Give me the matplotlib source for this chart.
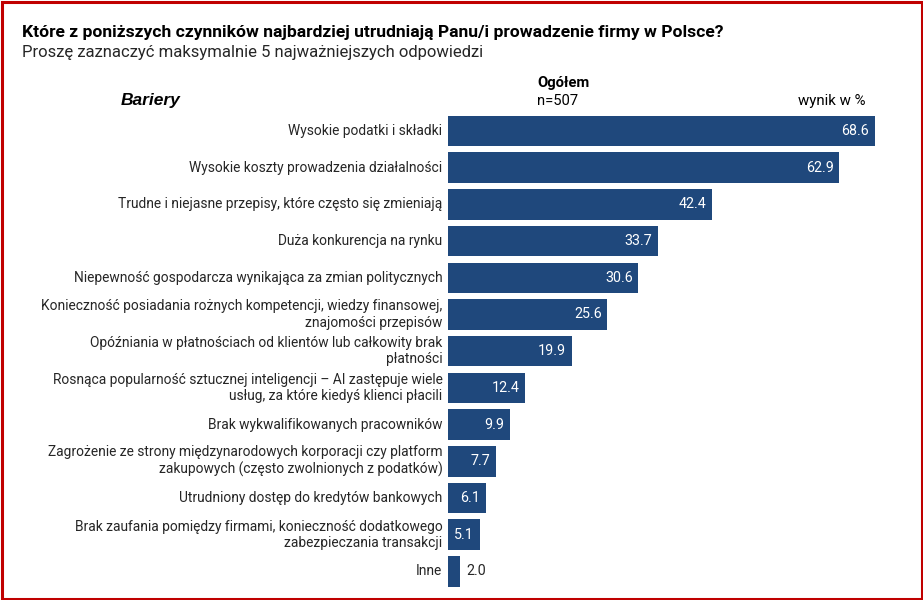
import matplotlib
matplotlib.use('Agg')
import matplotlib.pyplot as plt
from matplotlib.patches import Rectangle

# data
bariery = [
    'Wysokie podatki i składki',
    'Wysokie koszty prowadzenia działalności',
    'Trudne i niejasne przepisy, które często się zmieniają',
    'Duża konkurencja na rynku',
    'Niepewność gospodarcza wynikająca za zmian politycznych',
    'Konieczność posiadania rożnych kompetencji, wiedzy finansowej,\nznajomości przepisów',
    'Opóźniania w płatnościach od klientów lub całkowity brak\npłatności',
    'Rosnąca popularność sztucznej inteligencji – AI zastępuje wiele\nusług, za które kiedyś klienci płacili',
    'Brak wykwalifikowanych pracowników',
    'Zagrożenie ze strony międzynarodowych korporacji czy platform\nzakupowych (często zwolnionych z podatków)',
    'Utrudniony dostęp do kredytów bankowych',
    'Brak zaufania pomiędzy firmami, konieczność dodatkowego\nzabezpieczania transakcji',
    'Inne',
]
wyniki = [68.6, 62.9, 42.4, 33.7, 30.6, 25.6, 19.9, 12.4, 9.9, 7.7, 6.1, 5.1, 2.0]

title = 'Które z poniższych czynników najbardziej utrudniają Panu/i prowadzenie firmy w Polsce?'
subtitle = 'Proszę zaznaczyć maksymalnie 5 najważniejszych odpowiedzi'

navy = '#1F487C'
txt = '#262626'
head = ['Roboto', 'DejaVu Sans']

W, H = 923, 600
fig = plt.figure(figsize=(W / 100, H / 100), dpi=100)

# axes placed in pixels: bars start at x=448, 6.22 px per percent
x0, xmax = 448, 75
ax_w = xmax * 6.22
n = len(wyniki)
step = 36.7
top_c, bot_c = 131, 131 + step * (n - 1)
ax_top = top_c - step / 2
ax_bot = bot_c + step / 2
ax = fig.add_axes([x0 / W, 1 - ax_bot / H, ax_w / W, (ax_bot - ax_top) / H])

ypos = list(range(n))
ax.barh(ypos, wyniki, height=0.83, color=navy)
ax.set_xlim(0, xmax)
ax.set_ylim(n - 0.5, -0.5)
ax.axis('off')

for i, (lab, v) in enumerate(zip(bariery, wyniki)):
    ax.text(-0.9, i, lab, ha='right', va='center', fontsize=9.9,
            family='Roboto', color=txt, linespacing=1.2)
    if v > 4:
        ax.text(v - 0.9, i, f'{v:.1f}', ha='right', va='center',
                fontsize=10.3, family='Roboto', color='white')
    else:
        ax.text(v + 0.9, i, f'{v:.1f}', ha='left', va='center',
                fontsize=10.3, family='Roboto', color=txt)

# headings
fig.text(22 / W, 1 - 32 / H, title, ha='left', va='center', fontsize=12.6,
         fontweight='bold', family=head, color='black')
fig.text(22 / W, 1 - 52 / H, subtitle, ha='left', va='center', fontsize=12,
         family=head, color=txt)
fig.text(537 / W, 1 - 83 / H, 'Ogółem', ha='left', va='center', fontsize=10.6,
         fontweight='bold', family=head, color='black')
fig.text(537 / W, 1 - 101 / H, 'n=507', ha='left', va='center', fontsize=10.6,
         family=head, color='black')
fig.text(865 / W, 1 - 101 / H, 'wynik w %', ha='right', va='center', fontsize=10.8,
         family=head, color='black')
fig.text(121 / W, 1 - 100 / H, 'Bariery', ha='left', va='center', fontsize=12.5,
         fontweight='bold', style='italic', family=['Liberation Sans', 'DejaVu Sans'],
         color='black')

# red frame
fig.patches.append(Rectangle((1.5 / W, 1.5 / H), 1 - 3 / W, 1 - 3 / H,
                             transform=fig.transFigure, fill=False,
                             edgecolor='#C00000', linewidth=2.2))

fig.savefig('out.png', dpi=100)
